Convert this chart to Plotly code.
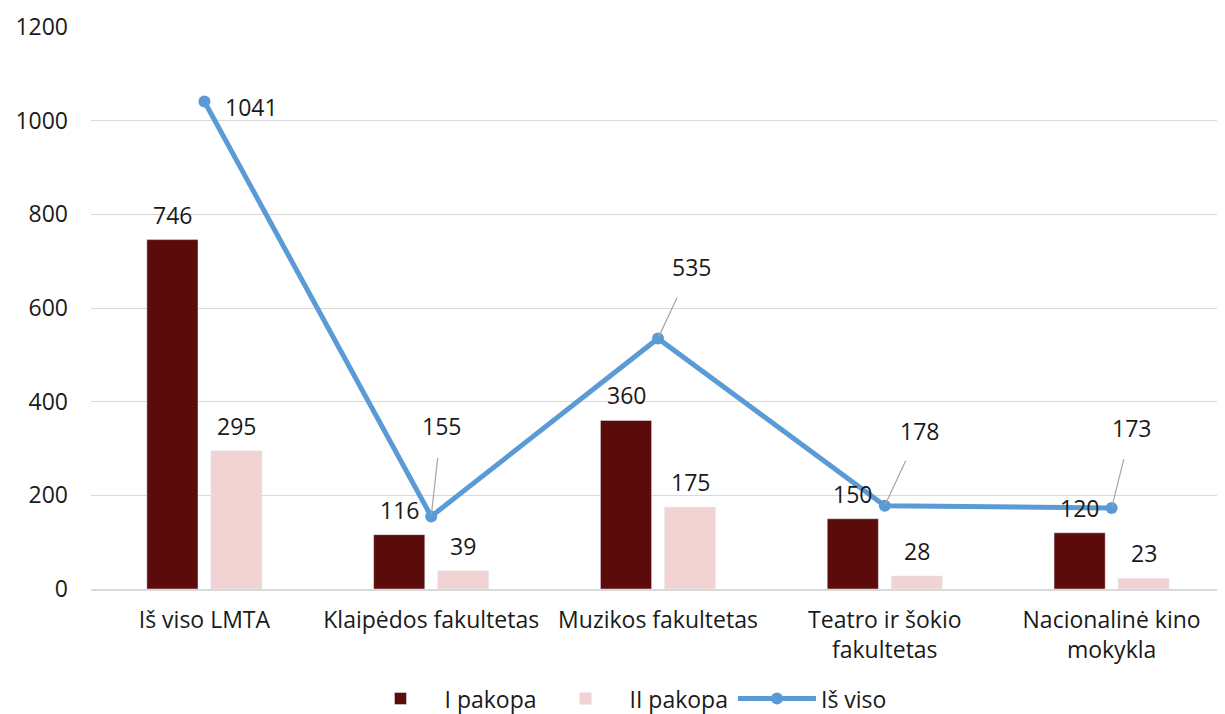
import plotly.graph_objects as go

categories = ["Iš viso LMTA", "Klaipėdos fakultetas", "Muzikos fakultetas",
              "Teatro ir šokio<br>fakultetas", "Nacionalinė kino<br>mokykla"]
pakopa1 = [746, 116, 360, 150, 120]
pakopa2 = [295, 39, 175, 28, 23]
is_viso = [1041, 155, 535, 178, 173]

# label offsets (px) for the total line labels
lbl_dx = [47, 10, 33, 35, 20]
lbl_dy = [6, -90, -71, -75, -80]
leader = [False, True, True, True, True]

FONT = "Open Sans"
FS = 23
TXT = "#1a1a1a"

fig = go.Figure()
fig.add_trace(go.Bar(x=categories, y=pakopa1, name="I pakopa", marker_color="#5c0b0b"))
fig.add_trace(go.Bar(x=categories, y=pakopa2, name="II pakopa", marker_color="#f2d3d4"))
fig.add_trace(go.Scatter(x=categories, y=is_viso, name="Iš viso", mode="lines+markers",
                         line=dict(color="#5b9bd5", width=5),
                         marker=dict(size=12, color="#5b9bd5"), cliponaxis=False))

# bar value labels
for vals, shift in ((pakopa1, -32), (pakopa2, 32)):
    for c, v in zip(categories, vals):
        fig.add_annotation(x=c, y=v, text=str(v), showarrow=False, xshift=shift,
                           yanchor="bottom", yshift=7,
                           font=dict(size=FS, color=TXT, family=FONT))

for c, v, dx, dy, ld in zip(categories, is_viso, lbl_dx, lbl_dy, leader):
    fig.add_annotation(x=c, y=v, xref="x", yref="y", text=str(v),
                       showarrow=True, ax=dx, ay=dy, arrowhead=0,
                       arrowwidth=1.2,
                       arrowcolor="#a6a6a6" if ld else "rgba(0,0,0,0)",
                       standoff=2, startstandoff=14,
                       font=dict(size=FS, color=TXT, family=FONT))

fig.update_layout(
    width=1217, height=706,
    margin=dict(l=83, r=0, t=19, b=125, autoexpand=False),
    paper_bgcolor="white", plot_bgcolor="white",
    font=dict(family=FONT, size=FS, color=TXT),
    barmode="group", bargap=0.436, bargroupgap=0.2,
    showlegend=True,
    legend=dict(orientation="h", x=0.47, xanchor="center", y=-0.195, yanchor="middle",
                font=dict(size=FS, family=FONT, color=TXT), itemwidth=78,
                traceorder="normal"),
)
fig.update_xaxes(showgrid=False, showline=True, linecolor="#d9d9d9", linewidth=1.5,
                 ticks="", automargin=False, ticklabelstandoff=10,
                 tickfont=dict(size=FS, family=FONT, color=TXT))
fig.update_yaxes(range=[0, 1200], dtick=200, showgrid=True, gridcolor="#d9d9d9",
                 gridwidth=1.3, zeroline=False, showline=False, ticks="",
                 ticklabelstandoff=22, automargin=False,
                 tickfont=dict(size=FS, family=FONT, color=TXT))

fig.write_html("out.html")
